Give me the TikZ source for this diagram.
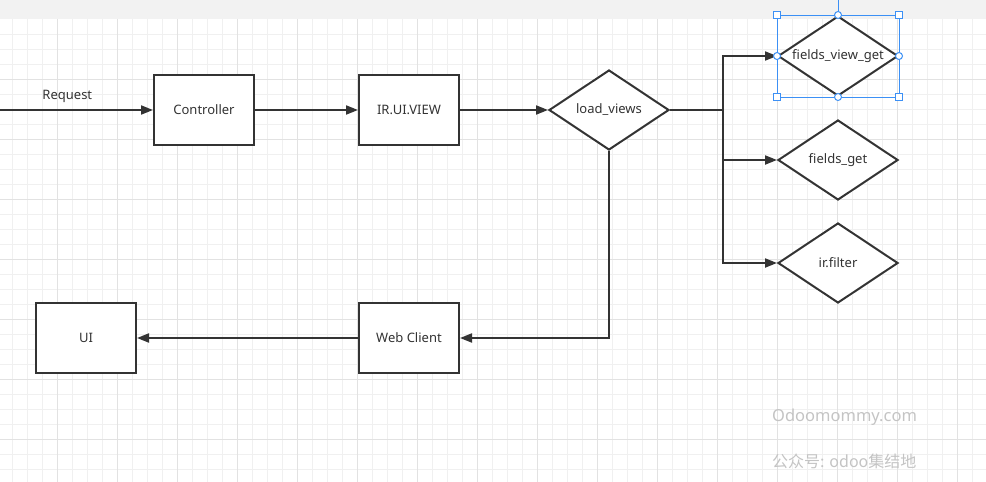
\documentclass[tikz,border=0pt]{standalone}
\usepackage{fontspec}
\setmainfont{Noto Sans}
\newfontfamily\cjk{Noto Sans CJK SC}
\usetikzlibrary{arrows.meta,shapes.geometric}
\definecolor{ink}{HTML}{333333}
\definecolor{gridminor}{HTML}{F0F0F0}
\definecolor{gridmajor}{HTML}{E2E2E2}
\definecolor{topband}{HTML}{F2F2F2}
\definecolor{selblue}{HTML}{3C90F5}
\definecolor{mark}{HTML}{C4C4C4}

\begin{document}
\begin{tikzpicture}[x=1pt,y=-1pt,
  box/.style={draw=ink,line width=2pt,fill=white,minimum width=100pt,minimum height=70pt,
    inner sep=0pt,text=ink,font=\fontsize{13}{15}\selectfont},
  dia/.style={diamond,draw=ink,line width=2pt,fill=white,minimum width=120pt,minimum height=80pt,
    aspect=1.5,inner sep=0pt,text=ink,font=\fontsize{13}{15}\selectfont},
  link/.style={ink,line width=2pt,-{Triangle[length=12pt,width=9pt]}},
  handle/.style={draw=selblue,fill=white,line width=1pt}]
\useasboundingbox (0,0) rectangle (986,482);
\fill[white] (0,0) rectangle (986,482);
% grid
\foreach \x in {12,27,...,986} { \draw[gridminor,line width=1pt] (\x,19) -- (\x,482); }
\foreach \y in {34,49,...,482} { \draw[gridminor,line width=1pt] (0,\y) -- (986,\y); }
\foreach \x in {57,117,...,986} { \draw[gridmajor,line width=1pt] (\x,19) -- (\x,482); }
\foreach \y in {79,139,...,482} { \draw[gridmajor,line width=1pt] (0,\y) -- (986,\y); }
\fill[topband] (0,0) rectangle (986,19);

% nodes
\node[box] (ctrl) at (204,110) {Controller};
\node[box] (view) at (409,110) {IR.UI.VIEW};
\node[dia] (lv) at (609,110) {load\_views};
\node[dia] (fvg) at (838,56) {fields\_view\_get};
\node[dia] (fg) at (838,160) {fields\_get};
\node[dia] (irf) at (838,263) {ir.filter};
\node[box] (wc) at (409,338) {Web Client};
\node[box] (ui) at (86,338) {UI};
\coordinate (start) at (0,110);
\coordinate (split) at (723,110);

% connectors
\draw[link] (start) -- node[pos=0.44,above=3pt,text=ink,font=\fontsize{13}{15}\selectfont] (req) {Request} (ctrl);
\draw[link] (ctrl) -- (view);
\draw[link] (view) -- (lv);
\draw[ink,line width=2pt] (lv.east) -- (split);
\draw[link] (split) |- (fvg.west);
\draw[link] (split) |- (fg.west);
\draw[link] (split) |- (irf.west);
\draw[link] (lv.south) |- (wc.east);
\draw[link] (wc) -- (ui);

% selection of fields_view_get
\draw[selblue,line width=1pt] (fvg.west |- fvg.north) rectangle (fvg.east |- fvg.south);
\draw[selblue,line width=1pt] (fvg.north) -- (fvg.north |- 0,0);
\foreach \c in {fvg.west |- fvg.north,fvg.east |- fvg.north,fvg.west |- fvg.south,fvg.east |- fvg.south}
  { \draw[handle] (\c) ++(-3.5,-3.5) rectangle ++(7,7); }
\foreach \a in {north,south,east,west} { \draw[handle] (fvg.\a) circle[radius=3.5pt]; }

% watermark
\node[anchor=west,inner sep=0pt,text=mark,font=\fontsize{16.5}{18}\selectfont] (site) at (772,417) {Odoomommy.com};
\node[anchor=west,inner sep=0pt,text=mark,font=\cjk\fontsize{16}{18}\selectfont] (wx) at (772,461) {公众号: odoo集结地};
\end{tikzpicture}
\end{document}
